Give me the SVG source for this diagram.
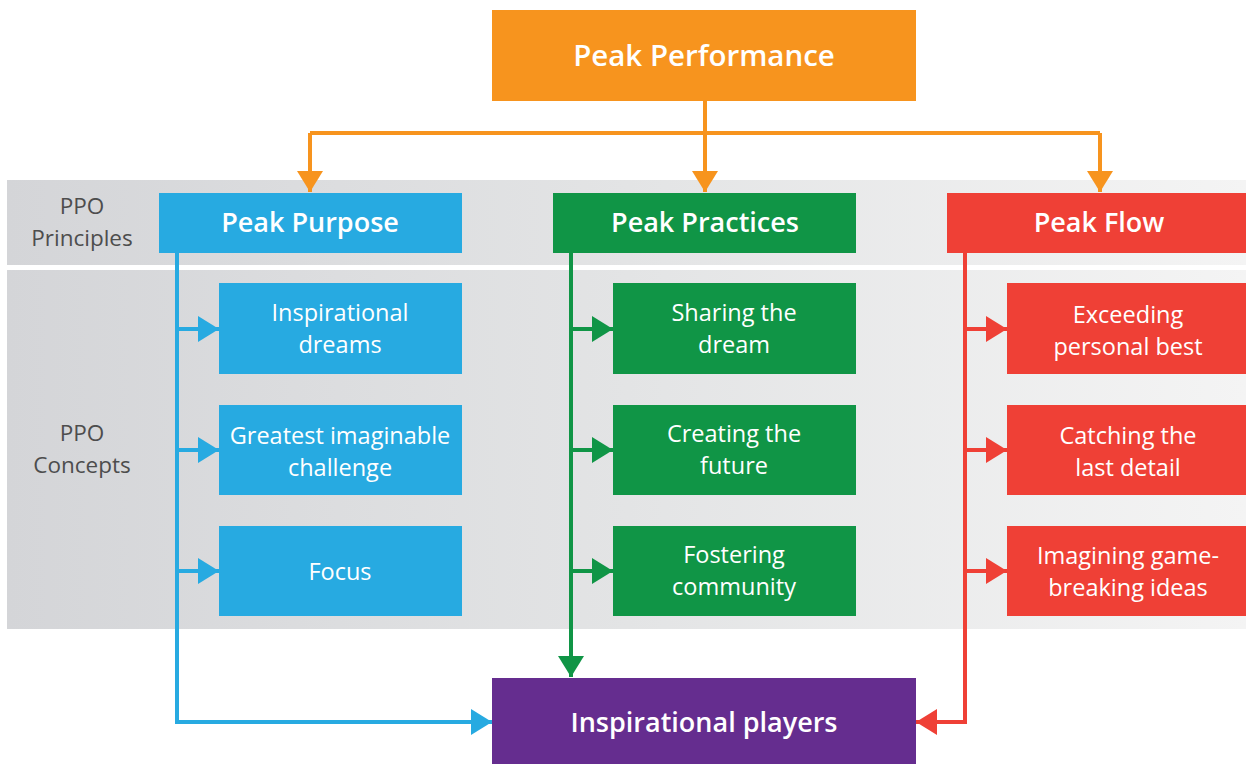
<svg xmlns="http://www.w3.org/2000/svg" width="1246" height="764" viewBox="0 0 1246 764">
  <style>
    .lbl { font-family: "Open Sans", "Liberation Sans", sans-serif; fill: #ffffff; text-anchor: middle; }
    .head { font-size: 27px; font-weight: 600; }
    .title { font-size: 29.5px; font-weight: 600; }
    .item { font-size: 23.5px; font-weight: 400; }
    .side { font-family: "Open Sans", "Liberation Sans", sans-serif; font-size: 22.5px; fill: #4d4d4d; text-anchor: middle; }
    .ln { fill: none; stroke-width: 4; stroke-linejoin: miter; }
  </style>
  <defs>
    <linearGradient id="band" x1="0" y1="0" x2="1" y2="0">
      <stop offset="0" stop-color="#d4d5d8"/>
      <stop offset="0.5" stop-color="#e3e4e5"/>
      <stop offset="1" stop-color="#f4f4f4"/>
    </linearGradient>
    <marker id="aO" markerUnits="userSpaceOnUse" markerWidth="22" markerHeight="26" refX="21" refY="13" orient="auto">
      <path d="M0,0 L21,13 L0,26 Z" fill="#f7941e"/>
    </marker>
    <marker id="aB" markerUnits="userSpaceOnUse" markerWidth="22" markerHeight="26" refX="21" refY="13" orient="auto">
      <path d="M0,0 L21,13 L0,26 Z" fill="#27aae1"/>
    </marker>
    <marker id="aG" markerUnits="userSpaceOnUse" markerWidth="22" markerHeight="26" refX="21" refY="13" orient="auto">
      <path d="M0,0 L21,13 L0,26 Z" fill="#109546"/>
    </marker>
    <marker id="aR" markerUnits="userSpaceOnUse" markerWidth="22" markerHeight="26" refX="21" refY="13" orient="auto">
      <path d="M0,0 L21,13 L0,26 Z" fill="#ef4036"/>
    </marker>
  </defs>

  <rect width="1246" height="764" fill="#ffffff"/>

  <!-- background bands -->
  <g id="bands">
    <rect x="7" y="180" width="1239" height="85" fill="url(#band)"/>
    <rect x="7" y="270" width="1239" height="359" fill="url(#band)"/>
    <text class="side" x="82" y="214">PPO</text>
    <text class="side" x="82" y="246">Principles</text>
    <text class="side" x="82" y="441">PPO</text>
    <text class="side" x="82" y="473">Concepts</text>
  </g>

  <!-- connectors -->
  <g id="connectors">
    <path class="ln" stroke="#f7941e" d="M705,101 V133"/>
    <path class="ln" stroke="#f7941e" d="M310,133 H1100"/>
    <path class="ln" stroke="#f7941e" d="M310,133 V192" marker-end="url(#aO)"/>
    <path class="ln" stroke="#f7941e" d="M705,133 V192" marker-end="url(#aO)"/>
    <path class="ln" stroke="#f7941e" d="M1100,133 V192" marker-end="url(#aO)"/>

    <path class="ln" stroke="#27aae1" d="M177,253 V722 H492" marker-end="url(#aB)"/>
    <path class="ln" stroke="#27aae1" d="M177,329 H219" marker-end="url(#aB)"/>
    <path class="ln" stroke="#27aae1" d="M177,450 H219" marker-end="url(#aB)"/>
    <path class="ln" stroke="#27aae1" d="M177,571 H219" marker-end="url(#aB)"/>

    <path class="ln" stroke="#109546" d="M571,253 V677" marker-end="url(#aG)"/>
    <path class="ln" stroke="#109546" d="M571,329 H613" marker-end="url(#aG)"/>
    <path class="ln" stroke="#109546" d="M571,450 H613" marker-end="url(#aG)"/>
    <path class="ln" stroke="#109546" d="M571,571 H613" marker-end="url(#aG)"/>

    <path class="ln" stroke="#ef4036" d="M965,253 V722 H916" marker-end="url(#aR)"/>
    <path class="ln" stroke="#ef4036" d="M965,329 H1007" marker-end="url(#aR)"/>
    <path class="ln" stroke="#ef4036" d="M965,450 H1007" marker-end="url(#aR)"/>
    <path class="ln" stroke="#ef4036" d="M965,571 H1007" marker-end="url(#aR)"/>
  </g>

  <!-- top node -->
  <g id="peak-performance">
    <rect x="492" y="10" width="424" height="91" fill="#f7941e"/>
    <text class="lbl title" x="704" y="66">Peak Performance</text>
  </g>

  <!-- principles -->
  <g id="peak-purpose">
    <rect x="159" y="193" width="303" height="60" fill="#27aae1"/>
    <text class="lbl head" x="310" y="232">Peak Purpose</text>
  </g>
  <g id="peak-practices">
    <rect x="553" y="193" width="303" height="60" fill="#109546"/>
    <text class="lbl head" x="705" y="232">Peak Practices</text>
  </g>
  <g id="peak-flow">
    <rect x="947" y="193" width="303" height="60" fill="#ef4036"/>
    <text class="lbl head" x="1099" y="232">Peak Flow</text>
  </g>

  <!-- purpose concepts -->
  <g id="inspirational-dreams">
    <rect x="219" y="283" width="243" height="91" fill="#27aae1"/>
    <text class="lbl item" x="340" y="321">Inspirational</text>
    <text class="lbl item" x="340" y="353">dreams</text>
  </g>
  <g id="greatest-challenge">
    <rect x="219" y="405" width="243" height="90" fill="#27aae1"/>
    <text class="lbl item" x="340" y="444">Greatest imaginable</text>
    <text class="lbl item" x="340" y="476">challenge</text>
  </g>
  <g id="focus">
    <rect x="219" y="526" width="243" height="90" fill="#27aae1"/>
    <text class="lbl item" x="340" y="580">Focus</text>
  </g>

  <!-- practices concepts -->
  <g id="sharing-the-dream">
    <rect x="613" y="283" width="243" height="91" fill="#109546"/>
    <text class="lbl item" x="734" y="321">Sharing the</text>
    <text class="lbl item" x="734" y="353">dream</text>
  </g>
  <g id="creating-the-future">
    <rect x="613" y="405" width="243" height="90" fill="#109546"/>
    <text class="lbl item" x="734" y="442">Creating the</text>
    <text class="lbl item" x="734" y="474">future</text>
  </g>
  <g id="fostering-community">
    <rect x="613" y="526" width="243" height="90" fill="#109546"/>
    <text class="lbl item" x="734" y="563">Fostering</text>
    <text class="lbl item" x="734" y="595">community</text>
  </g>

  <!-- flow concepts -->
  <g id="exceeding-personal-best">
    <rect x="1007" y="283" width="243" height="91" fill="#ef4036"/>
    <text class="lbl item" x="1128" y="323">Exceeding</text>
    <text class="lbl item" x="1128" y="355">personal best</text>
  </g>
  <g id="catching-the-last-detail">
    <rect x="1007" y="405" width="243" height="90" fill="#ef4036"/>
    <text class="lbl item" x="1128" y="444">Catching the</text>
    <text class="lbl item" x="1128" y="476">last detail</text>
  </g>
  <g id="imagining-ideas">
    <rect x="1007" y="526" width="243" height="90" fill="#ef4036"/>
    <text class="lbl item" x="1128" y="564">Imagining game-</text>
    <text class="lbl item" x="1128" y="596">breaking ideas</text>
  </g>

  <!-- outcome -->
  <g id="inspirational-players">
    <rect x="492" y="678" width="424" height="86" fill="#652d8f"/>
    <text class="lbl head" x="704" y="732">Inspirational players</text>
  </g>
</svg>
